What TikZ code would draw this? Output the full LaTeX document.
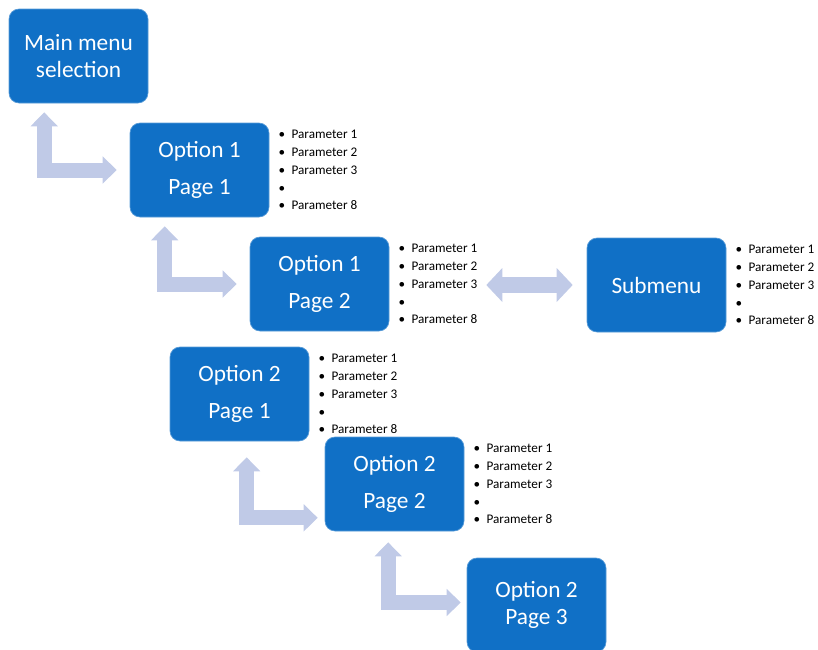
\documentclass[tikz,border=0pt]{standalone}
\usepackage{fontspec}
\setmainfont{Carlito}
\usetikzlibrary{arrows.meta,positioning,calc}
\definecolor{boxblue}{RGB}{16,112,198}
\definecolor{arrowblue}{RGB}{192,202,231}
\tikzset{every node/.append style={inner sep=0pt}}
\tikzset{menubox/.style={fill=boxblue, draw=boxblue!70!white, line width=0.5pt,
  rounded corners=7.5pt, text=white, align=center,
  minimum width=104.25pt, minimum height=70.5pt,
  font=\fontsize{17.5}{27.75}\selectfont}}
\tikzset{tightbox/.style={menubox, font=\fontsize{17.5}{20}\selectfont}}
\tikzset{params/.style={align=left, font=\fontsize{9.9}{13.4}\selectfont, right=6.75pt of #1}}
\tikzset{bentarr/.style={draw=arrowblue, line width=11.25pt, line join=miter,
  {Triangle[length=10.5pt,width=20.5pt,line width=0pt]}-{Triangle[length=10.5pt,width=20.5pt,line width=0pt]}}}
\tikzset{dblarr/.style={draw=arrowblue, line width=12pt,
  {Triangle[length=12pt,width=25.5pt,line width=0pt]}-{Triangle[length=12pt,width=25.5pt,line width=0pt]}}}
\newcommand{\prm}[1]{\makebox[9.75pt][l]{\textbullet}#1}
\newcommand{\plist}{\prm{Parameter 1}\\\prm{Parameter 2}\\\prm{Parameter 3}\\\prm{}\\\prm{Parameter 8}}

\begin{document}
\begin{tikzpicture}[x=0.75pt,y=-0.75pt]
\useasboundingbox (0,0) rectangle (818,650);
\node[tightbox] (main) at (78.5,56) {Main menu\\selection};
\node[menubox] (o11) at (199.5,170) {Option 1\\Page 1};
\node[menubox] (o12) at (319.5,284) {Option 1\\Page 2};
\node[menubox] (sub) at (656.5,285) {Submenu};
\node[menubox] (o21) at (239.5,394) {Option 2\\Page 1};
\node[menubox] (o22) at (394.5,484) {Option 2\\Page 2};
\node[tightbox] (o23) at (536.5,605) {Option 2\\Page 3};
\node[params=o11] (p11) {\plist};
\node[params=o12] (p12) {\plist};
\node[params=sub] (psub) {\plist};
\node[params=o21] (p21) {\plist};
\node[params=o22] (p22) {\plist};
\draw[bentarr] ($(main.south west)+(35.5,9)$) |- ($(o11.west)+(-13,0)$);
\draw[bentarr] ($(o11.south west)+(35,9)$) |- ($(o12.west)+(-13,0)$);
\draw[bentarr] ($(o21.south west)+(77,16)$) |- ($(o22.south west)+(-7,-13.5)$);
\draw[bentarr] ($(o22.south west)+(63.5,11)$) |- ($(o23.west)+(-6,-2.5)$);
\draw[dblarr] ($(o12.east)+(97,1)$) -- ($(sub.west)+(-14,0)$);
\end{tikzpicture}
\end{document}
